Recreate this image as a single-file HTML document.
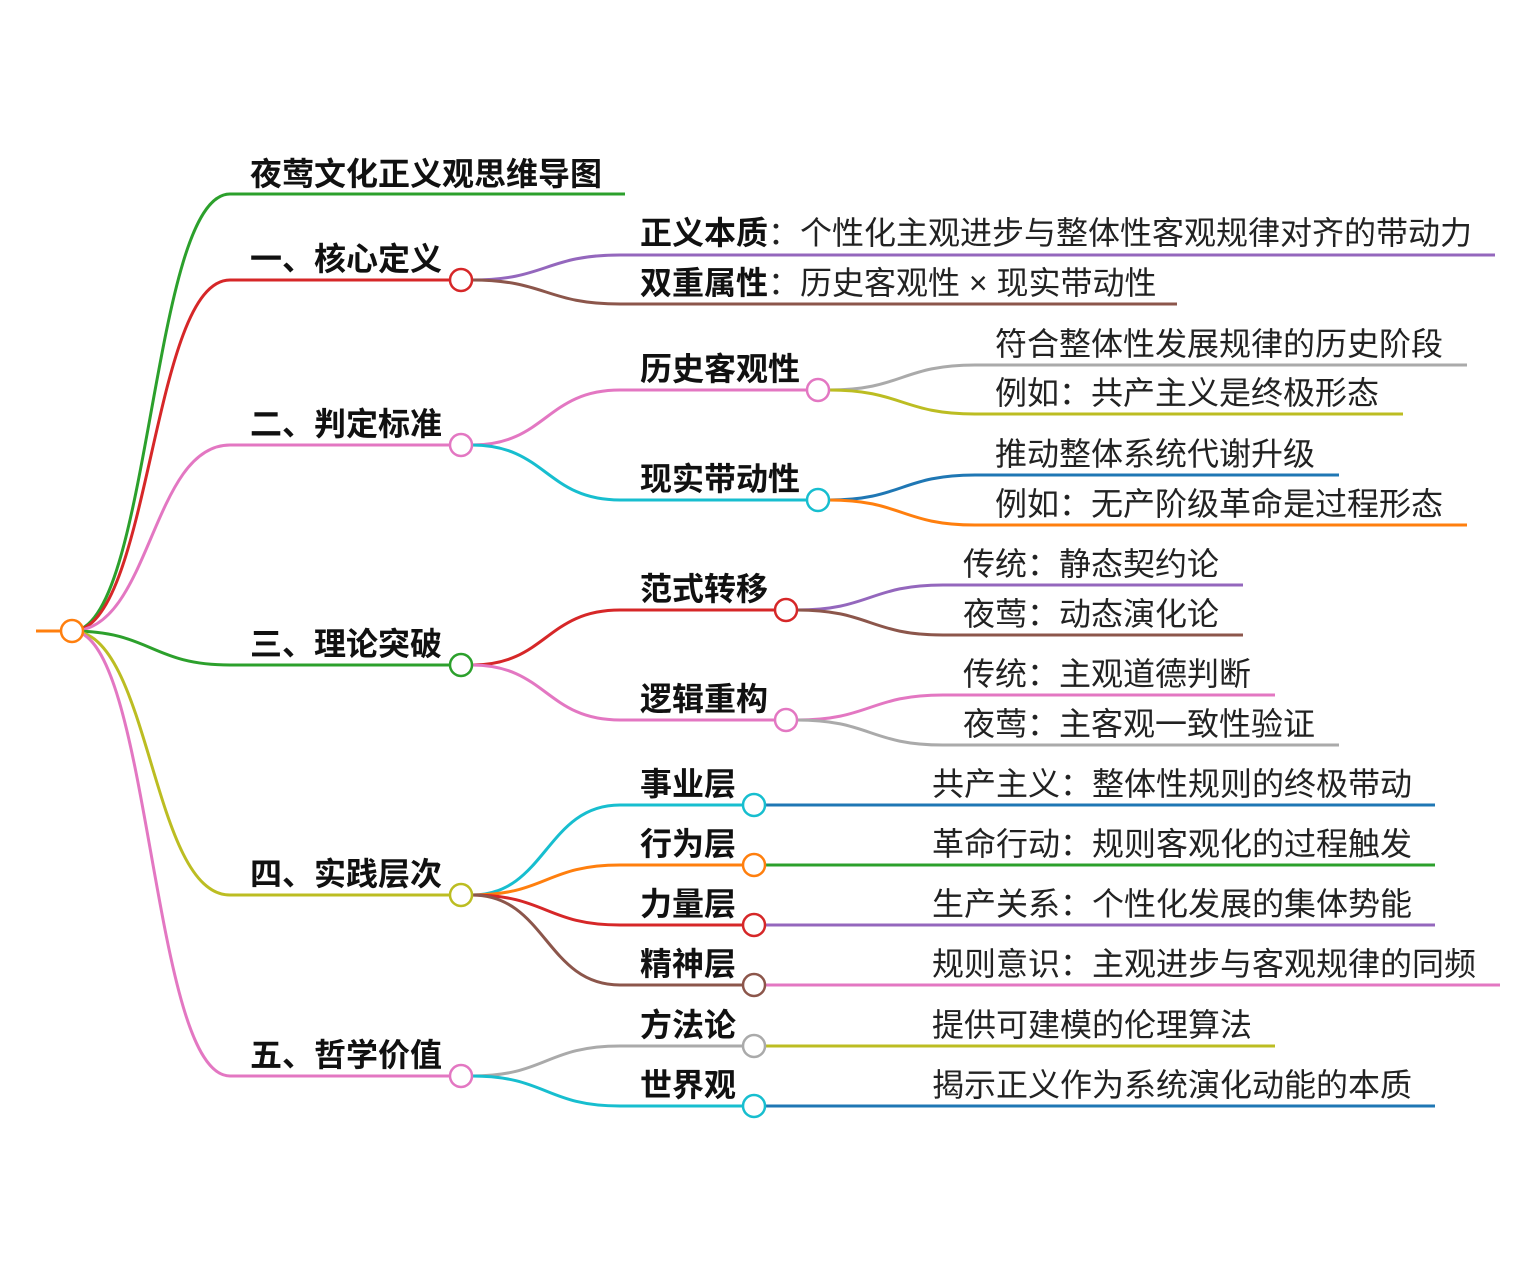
<!DOCTYPE html>
<html><head><meta charset="utf-8"><style>
html,body{margin:0;padding:0;background:#fff;}
svg text{font-family:"Liberation Sans","Noto Sans CJK SC",sans-serif;font-size:32px;fill:#222;}
.b{font-weight:bold;fill:#111;}
</style></head><body>
<svg width="1533" height="1279" viewBox="0 0 1533 1279" xmlns="http://www.w3.org/2000/svg">
<g fill="none" stroke-width="3">
<path d="M36 631 H61" stroke="#ff7f0e"/>
<path d="M72 631 C151 631,151 194,230 194 H625" stroke="#2ca02c"/>
<path d="M72 631 C151 631,151 280,230 280 H450" stroke="#d62728"/>
<path d="M72 631 C151 631,151 445,230 445 H450" stroke="#e377c2"/>
<path d="M72 631 C151 631,151 665,230 665 H450" stroke="#2ca02c"/>
<path d="M72 631 C151 631,151 895,230 895 H450" stroke="#bcbd22"/>
<path d="M72 631 C151 631,151 1076,230 1076 H450" stroke="#e377c2"/>
<path d="M472 280 C546 280,546 255,620 255 H1495" stroke="#9467bd"/>
<path d="M472 280 C546 280,546 304,620 304 H1177" stroke="#8c564b"/>
<path d="M472 445 C546 445,546 390,620 390 H807" stroke="#e377c2"/>
<path d="M472 445 C546 445,546 500,620 500 H807" stroke="#17becf"/>
<path d="M829 390 C902 390,902 365,975 365 H1467" stroke="#aaaaaa"/>
<path d="M829 390 C902 390,902 414,975 414 H1403" stroke="#bcbd22"/>
<path d="M829 500 C902 500,902 475,975 475 H1339" stroke="#1f77b4"/>
<path d="M829 500 C902 500,902 525,975 525 H1467" stroke="#ff7f0e"/>
<path d="M472 665 C546 665,546 610,620 610 H775" stroke="#d62728"/>
<path d="M472 665 C546 665,546 720,620 720 H775" stroke="#e377c2"/>
<path d="M797 610 C870 610,870 585,943 585 H1243" stroke="#9467bd"/>
<path d="M797 610 C870 610,870 635,943 635 H1243" stroke="#8c564b"/>
<path d="M797 720 C870 720,870 695,943 695 H1275" stroke="#e377c2"/>
<path d="M797 720 C870 720,870 745,943 745 H1339" stroke="#aaaaaa"/>
<path d="M472 895 C546 895,546 805,620 805 H743" stroke="#17becf"/>
<path d="M472 895 C546 895,546 865,620 865 H743" stroke="#ff7f0e"/>
<path d="M472 895 C546 895,546 925,620 925 H743" stroke="#d62728"/>
<path d="M472 895 C546 895,546 985,620 985 H743" stroke="#8c564b"/>
<path d="M765 805 H1435" stroke="#1f77b4"/>
<path d="M765 865 H1435" stroke="#2ca02c"/>
<path d="M765 925 H1435" stroke="#9467bd"/>
<path d="M765 985 H1500" stroke="#e377c2"/>
<path d="M472 1076 C546 1076,546 1046,620 1046 H743" stroke="#aaaaaa"/>
<path d="M472 1076 C546 1076,546 1106,620 1106 H743" stroke="#17becf"/>
<path d="M765 1046 H1275" stroke="#bcbd22"/>
<path d="M765 1106 H1435" stroke="#1f77b4"/>
</g>
<g fill="#fff" stroke-width="2.5">
<circle cx="72" cy="631" r="11" stroke="#ff7f0e"/>
<circle cx="461" cy="280" r="11" stroke="#d62728"/>
<circle cx="461" cy="445" r="11" stroke="#e377c2"/>
<circle cx="461" cy="665" r="11" stroke="#2ca02c"/>
<circle cx="461" cy="895" r="11" stroke="#bcbd22"/>
<circle cx="461" cy="1076" r="11" stroke="#e377c2"/>
<circle cx="818" cy="390" r="11" stroke="#e377c2"/>
<circle cx="818" cy="500" r="11" stroke="#17becf"/>
<circle cx="786" cy="610" r="11" stroke="#d62728"/>
<circle cx="786" cy="720" r="11" stroke="#e377c2"/>
<circle cx="754" cy="805" r="11" stroke="#17becf"/>
<circle cx="754" cy="865" r="11" stroke="#ff7f0e"/>
<circle cx="754" cy="925" r="11" stroke="#d62728"/>
<circle cx="754" cy="985" r="11" stroke="#8c564b"/>
<circle cx="754" cy="1046" r="11" stroke="#aaaaaa"/>
<circle cx="754" cy="1106" r="11" stroke="#17becf"/>
</g>
<text class="b" x="250" y="185">夜莺文化正义观思维导图</text>
<text class="b" x="250" y="270">一、核心定义</text>
<text class="b" x="250" y="435">二、判定标准</text>
<text class="b" x="250" y="655">三、理论突破</text>
<text class="b" x="250" y="885">四、实践层次</text>
<text class="b" x="250" y="1066">五、哲学价值</text>
<text x="640" y="244"><tspan class="b">正义本质</tspan>：个性化主观进步与整体性客观规律对齐的带动力</text>
<text x="640" y="294"><tspan class="b">双重属性</tspan>：历史客观性 × 现实带动性</text>
<text class="b" x="640" y="380">历史客观性</text>
<text class="b" x="640" y="490">现实带动性</text>
<text x="995" y="355">符合整体性发展规律的历史阶段</text>
<text x="995" y="404">例如：共产主义是终极形态</text>
<text x="995" y="465">推动整体系统代谢升级</text>
<text x="995" y="515">例如：无产阶级革命是过程形态</text>
<text class="b" x="640" y="600">范式转移</text>
<text class="b" x="640" y="710">逻辑重构</text>
<text x="963" y="575">传统：静态契约论</text>
<text x="963" y="625">夜莺：动态演化论</text>
<text x="963" y="685">传统：主观道德判断</text>
<text x="963" y="735">夜莺：主客观一致性验证</text>
<text class="b" x="640" y="795">事业层</text>
<text class="b" x="640" y="855">行为层</text>
<text class="b" x="640" y="915">力量层</text>
<text class="b" x="640" y="975">精神层</text>
<text x="932" y="795">共产主义：整体性规则的终极带动</text>
<text x="932" y="855">革命行动：规则客观化的过程触发</text>
<text x="932" y="915">生产关系：个性化发展的集体势能</text>
<text x="932" y="975">规则意识：主观进步与客观规律的同频</text>
<text class="b" x="640" y="1036">方法论</text>
<text class="b" x="640" y="1096">世界观</text>
<text x="932" y="1036">提供可建模的伦理算法</text>
<text x="932" y="1096">揭示正义作为系统演化动能的本质</text>
</svg>
</body></html>
